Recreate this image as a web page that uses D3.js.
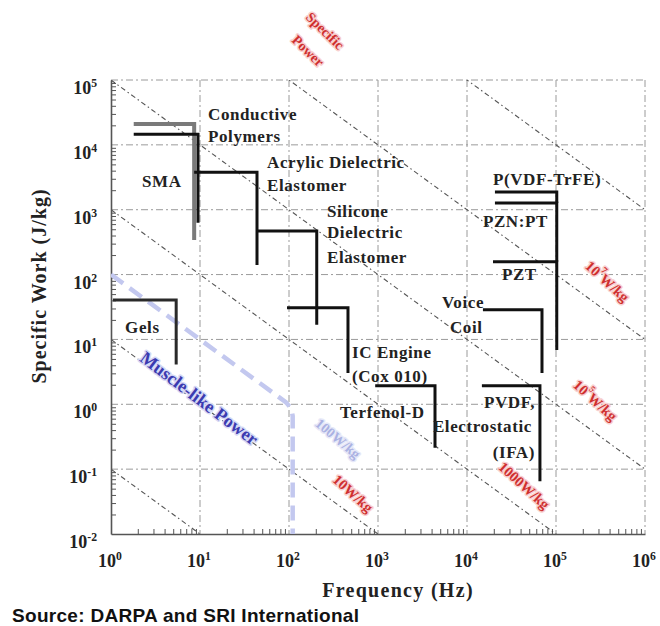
<!DOCTYPE html>
<html>
<head>
<meta charset="utf-8">
<script src="https://cdn.jsdelivr.net/npm/d3@7"></script>
<style>
body { margin: 0; background: #fff; }
svg text { font-family: "Liberation Serif", "Times New Roman", serif; font-weight: bold; }
</style>
</head>
<body>
<svg id="chart" width="660" height="626"></svg>
<script>
// actuator ranges: each one is a horizontal run at max specific work, then a drop at max frequency
const materials = ["Conductive Polymers", "SMA", "Acrylic Dielectric Elastomer", "Silicone Dielectric Elastomer",
  "IC Engine", "Terfenol-D", "Voice Coil", "PVDF Electrostatic", "P(VDF-TrFE)", "PZN:PT", "PZT", "Gels"];
const freqFrom = [1.8, 1.8, 8.6, 43.7, 95, 930, 15100, 14700, 20600, 20600, 19600, 1.05];
const freqMax  = [8.6, 9.5, 43.7, 205, 460, 4370, 69600, 66000, 102000, 102000, 102000, 5.4];
const workMax  = [21000, 14600, 3790, 471, 30.7, 1.93, 28.6, 1.93, 1880, 1270, 157, 40.7];
const workMin  = [340, 630, 141, 16.8, 3.05, 0.214, 3.05, 0.065, 1270, 157, 6.9, 4.1];

// muscle-like power envelope (W/kg line then frequency limit)
const muscleFreq = [1, 92, 106, 110, 110];
const muscleWork = [100, 1.08, 0.86, 0.66, 0.01];

// constant specific power lines, W/kg
const powerLines = [0.1, 10, 1e3, 1e5, 1e7, 1e9];

const xDecades = [0, 1, 2, 3, 4, 5, 6];
const yDecades = [-2, -1, 0, 1, 2, 3, 4, 5];

const svg = d3.select("#chart");
const plotLeft = 111, plotRight = 645, plotTop = 80, plotBottom = 534;

const x = d3.scaleLog().domain([1, 1e6]).range([plotLeft, plotRight]);
const y = d3.scaleLog().domain([1e-2, 1e5]).range([plotBottom, plotTop]);

svg.append("rect").attr("width", 660).attr("height", 626).attr("fill", "#fff");

svg.append("clipPath").attr("id", "plot-clip")
  .append("rect")
  .attr("x", plotLeft).attr("y", plotTop)
  .attr("width", plotRight - plotLeft).attr("height", plotBottom - plotTop);

// grid
const grid = svg.append("g").attr("stroke", "#9a9a9a").attr("stroke-width", 1)
  .attr("stroke-dasharray", "7,3,2,3").attr("fill", "none");
grid.selectAll(".gx").data(xDecades.slice(1)).join("line")
  .attr("x1", d => x(10 ** d)).attr("x2", d => x(10 ** d))
  .attr("y1", plotTop).attr("y2", plotBottom);
grid.selectAll(".gy").data(yDecades.slice(1)).join("line")
  .attr("y1", d => y(10 ** d)).attr("y2", d => y(10 ** d))
  .attr("x1", plotLeft).attr("x2", plotRight);

// axes with minor ticks inside
const minorX = x.ticks(30).filter(v => Math.abs(Math.log10(v) % 1) > 1e-6);
const minorY = y.ticks(30).filter(v => Math.abs(Math.log10(v) % 1) > 1e-6);

const axisBottom = svg.append("g").attr("transform", `translate(0,${plotBottom})`)
  .call(d3.axisBottom(x).tickValues(minorX).tickSize(-5).tickFormat("").tickSizeOuter(0));
const axisLeft = svg.append("g").attr("transform", `translate(${plotLeft},0)`)
  .call(d3.axisLeft(y).tickValues(minorY).tickSize(-5).tickFormat("").tickSizeOuter(0));
[axisBottom, axisLeft].forEach(a => {
  a.select(".domain").attr("stroke", "#555").attr("stroke-width", 1.6);
  a.selectAll(".tick line").attr("stroke", "#555").attr("stroke-width", 1);
});

// power lines
const plot = svg.append("g").attr("clip-path", "url(#plot-clip)");
plot.selectAll(".power").data(powerLines).join("line")
  .attr("x1", x(1)).attr("y1", d => y(d))
  .attr("x2", x(1e6)).attr("y2", d => y(d / 1e6))
  .attr("stroke", "#555").attr("stroke-width", 1.1)
  .attr("stroke-dasharray", "5,3,1.5,3");

// muscle-like power
const muscleLine = d3.line().x(d => x(d[0])).y(d => y(d[1]));
plot.append("path")
  .attr("d", muscleLine(d3.zip(muscleFreq, muscleWork)))
  .attr("fill", "none").attr("stroke", "#c3c8ef").attr("stroke-width", 4.5)
  .attr("stroke-dasharray", "15,8");

// actuator ranges
const grayOnes = new Set(["Conductive Polymers"]);
const step = d3.line().x(d => x(d[0])).y(d => y(d[1]));
svg.append("g").selectAll("path").data(materials).join("path")
  .attr("d", (m, i) => step([[freqFrom[i], workMax[i]], [freqMax[i], workMax[i]], [freqMax[i], workMin[i]]]))
  .attr("fill", "none")
  .attr("stroke", m => grayOnes.has(m) ? "#7a7a7a" : m === "Gels" ? "#2a2a2a" : "#111")
  .attr("stroke-width", m => grayOnes.has(m) ? 4 : 3)
  .attr("stroke-linejoin", "miter");

// tick labels
function powerText(sel, exp, base) {
  sel.append("tspan").text(base);
  sel.append("tspan").attr("dy", -7).attr("font-size", "0.65em").text(exp);
}
svg.append("g").selectAll("text").data(yDecades).join("text")
  .attr("x", 97).attr("y", d => y(10 ** d) + 14)
  .attr("text-anchor", "end").attr("font-size", 18).attr("fill", "#222")
  .each(function(d) { powerText(d3.select(this), d, "10"); });
svg.append("g").selectAll("text").data(xDecades).join("text")
  .attr("x", d => x(10 ** d) - 1).attr("y", 567)
  .attr("text-anchor", "middle").attr("font-size", 18).attr("fill", "#222")
  .each(function(d) { powerText(d3.select(this), d, "10"); });

// axis titles
svg.append("text").text("Specific Work (J/kg)")
  .attr("transform", "translate(46,286) rotate(-90)")
  .attr("text-anchor", "middle").attr("font-size", 20).attr("letter-spacing", 1).attr("fill", "#222");
svg.append("text").text("Frequency (Hz)")
  .attr("x", 398).attr("y", 597)
  .attr("text-anchor", "middle").attr("font-size", 20).attr("letter-spacing", 1.3).attr("fill", "#222");

svg.append("text").text("Source: DARPA and SRI International")
  .attr("x", 12).attr("y", 622)
  .style("font-family", "'Liberation Sans', Arial, sans-serif")
  .attr("font-size", 19).attr("letter-spacing", 0.3).attr("fill", "#111");

// material labels, anchored in data units
const labelSpots = [
  ["Conductive", 12.3, 24200, "start"], ["Polymers", 12.3, 11100, "start"],
  ["SMA", 2.23, 2240, "start"],
  ["Acrylic Dielectric", 56.6, 4400, "start"], ["Elastomer", 56.6, 1950, "start"],
  ["Silicone", 267, 774, "start"], ["Dielectric", 267, 368, "start"], ["Elastomer", 267, 151, "start"],
  ["IC Engine", 510, 5.2, "start"], ["(Cox 010)", 510, 2.22, "start"],
  ["Terfenol-D", 374, 0.62, "start"],
  ["PVDF,", 58100, 0.883, "end"], ["Electrostatic", 53700, 0.377, "end"], ["(IFA)", 58100, 0.15, "end"],
  ["Voice", 5240, 30.7, "start"], ["Coil", 6440, 12.6, "start"],
  ["P(VDF-TrFE)", 19600, 2410, "start"], ["PZN:PT", 15100, 543, "start"], ["PZT", 24700, 82.8, "start"],
  ["Gels", 1.44, 12.6, "start"]
];
svg.append("g").selectAll("text").data(labelSpots).join("text")
  .attr("x", d => x(d[1])).attr("y", d => y(d[2]))
  .attr("text-anchor", d => d[3])
  .attr("font-size", 17).attr("letter-spacing", 0.6).attr("fill", "#222")
  .text(d => d[0]);

// rotated annotations
function slanted(f, w, angle, fill, halo, size) {
  return svg.append("text")
    .attr("transform", `translate(${x(f)},${y(w)}) rotate(${angle})`)
    .attr("text-anchor", "middle").attr("dominant-baseline", "middle")
    .attr("font-size", size).attr("fill", fill)
    .attr("stroke", halo).attr("stroke-width", 3).attr("paint-order", "stroke")
    .attr("stroke-linejoin", "round");
}
const red = "#cf2f2f", pink = "#f8d0d0";
slanted(247, 5.5e5, 44, red, pink, 14).text("Specific");
slanted(159, 2.7e5, 44, red, pink, 14).text("Power");
slanted(510, 0.0404, 42, red, pink, 14.5).text("10W/kg");
slanted(42600, 0.0536, 42, red, pink, 14.5).text("1000W/kg");
const p5 = slanted(267000, 1.09, 42, red, pink, 14.5);
powerText(p5, "5", "10"); p5.append("tspan").attr("dy", 7).text("W/kg");
const p7 = slanted(365000, 74.5, 42, red, pink, 14.5);
powerText(p7, "7", "10"); p7.append("tspan").attr("dy", 7).text("W/kg");
slanted(346, 0.284, 40, "#aab1e2", "#e6e8f8", 14).text("100W/kg");
slanted(9.5, 1.17, 37, "#3b3bb0", "#d6d9f5", 18).attr("font-weight", "normal")
  .text("Muscle-like Power");
</script>
</body>
</html>
